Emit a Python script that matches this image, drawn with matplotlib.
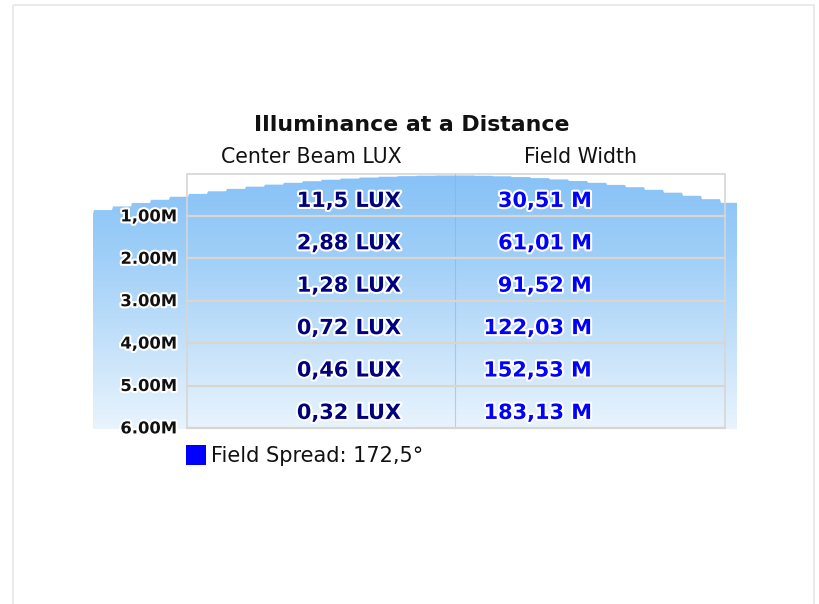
import numpy as np
import matplotlib.pyplot as plt
import matplotlib.patheffects as pe
from matplotlib.patches import Polygon, Rectangle
from matplotlib.colors import LinearSegmentedColormap

# data
title = "Illuminance at a Distance"
col_headers = ["Center Beam LUX", "Field Width"]
distance_labels = ["1,00M", "2.00M", "3.00M", "4,00M", "5.00M", "6.00M"]
center_lux = ["11,5", "2,88", "1,28", "0,72", "0,46", "0,32"]
field_width = ["30,51", "61,01", "91,52", "122,03", "152,53", "183,13"]
field_spread = "172,5°"

W, H = 819, 604
fig = plt.figure(figsize=(W / 100, H / 100), dpi=100)
ax = fig.add_axes([0, 0, 1, 1])
ax.set_xlim(0, W)
ax.set_ylim(H, 0)
ax.axis("off")

# outer frame
ax.add_patch(Rectangle((13, 5), 801, 620, fill=False, ec="#e6e6e6", lw=1.2))

# table geometry (pixels)
tx0, tx1, tdiv = 187, 725, 455
top = 173.5
row_h = 42.4
n = len(distance_labels)
bottom = top + n * row_h

# stepped arch that forms the top of the beam fill
fx0, fx1 = 93, 737
xs = np.arange(fx0, fx1 + 1, 1.0)
step = 19
xq = (np.floor((xs - tdiv) / step) + 0.5) * step + tdiv
k = np.where(xq < tdiv, 2.8e-4, 3.6e-4)
ys = 175.5 + k * (xq - tdiv) ** 2
ys[np.abs(xs - tdiv) < 20] = 175.5
poly = np.column_stack([np.r_[xs, fx1, fx0], np.r_[ys, bottom + 1, bottom + 1]])
clip = Polygon(poly, closed=True, fc="none", ec="none", transform=ax.transData)
ax.add_patch(clip)

cmap = LinearSegmentedColormap.from_list(
    "beam", ["#86c1f6", "#9fcff8", "#c4e1fa", "#e9f4fd"])
grad = np.linspace(0, 1, 256).reshape(-1, 1)
im = ax.imshow(grad, cmap=cmap, aspect="auto",
               extent=[fx0, fx1, bottom + 1, 170], zorder=1)
im.set_clip_path(clip)

# table lines
ax.add_patch(Rectangle((tx0, top), tx1 - tx0, bottom - top, fill=False,
                       ec="#d6d6d6", lw=1.2, zorder=2))
ax.plot([tdiv, tdiv], [top, bottom], color="#7fb0dd", lw=0.8, alpha=0.5, zorder=2)
for i in range(1, n + 1):
    yl = top + i * row_h
    ax.plot([tx0, tx1], [yl, yl], color="#d9d6cf", lw=1.6, zorder=2)

halo = [pe.withStroke(linewidth=3, foreground="white")]

ax.text(412, 125, title, ha="center", va="center", fontsize=15.8,
        fontweight="bold", color="#111111", zorder=3)
ax.text(311, 157, col_headers[0], ha="center", va="center", fontsize=14.8,
        color="#111111", zorder=3)
ax.text(581, 157, col_headers[1], ha="center", va="center", fontsize=14.8,
        color="#111111", zorder=3)

for i in range(n):
    yl = top + (i + 1) * row_h
    ax.text(177, yl + 1, distance_labels[i], ha="right", va="center",
            fontsize=11.8, fontweight="bold", color="#111111",
            path_effects=halo, zorder=3)
    ax.text(401, yl - 15, center_lux[i] + " LUX", ha="right", va="center",
            fontsize=15, fontweight="bold", color="#00007f",
            path_effects=halo, zorder=3)
    ax.text(592, yl - 15, field_width[i] + " M", ha="right", va="center",
            fontsize=15, fontweight="bold", color="#0000ff",
            path_effects=halo, zorder=3)

# legend
ax.add_patch(Rectangle((186, 445), 20, 20, fc="#0000ff", ec="none", zorder=3))
ax.text(211, 456, "Field Spread: " + field_spread, ha="left", va="center",
        fontsize=15, color="#111111", zorder=3)

fig.savefig("out.png", dpi=100, facecolor="white")
